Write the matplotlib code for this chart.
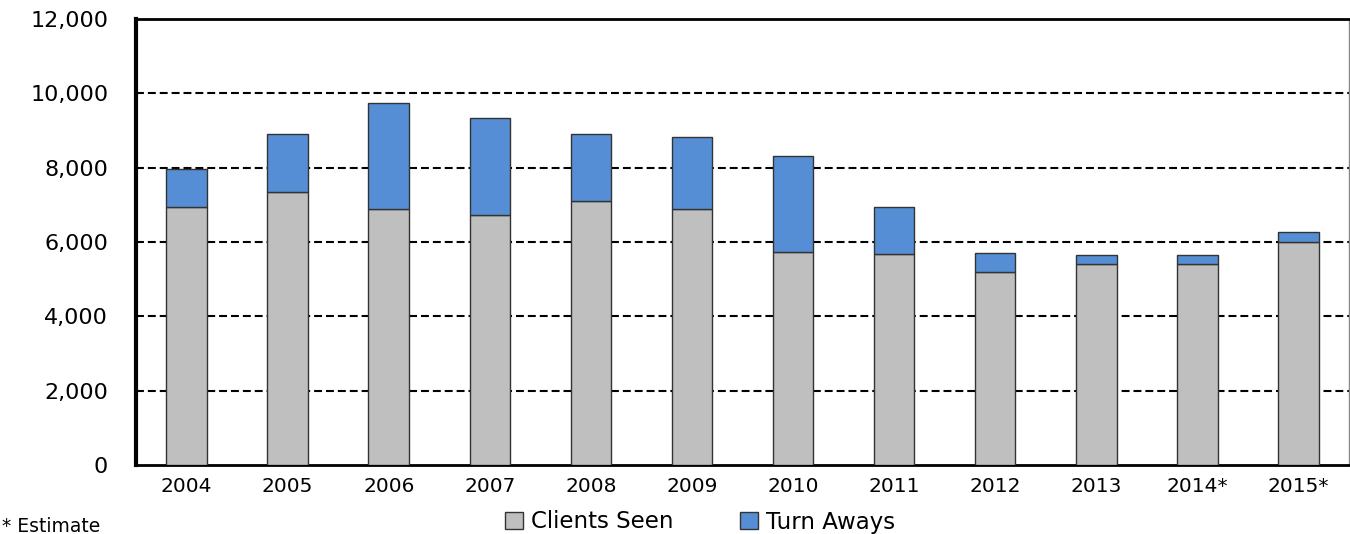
import matplotlib
matplotlib.use("Agg")
import matplotlib.pyplot as plt
from matplotlib.patches import Patch
from matplotlib.ticker import FuncFormatter

years = ["2004", "2005", "2006", "2007", "2008", "2009", "2010", "2011", "2012", "2013", "2014*", "2015*"]
clients_seen = [6950, 7350, 6900, 6730, 7100, 6890, 5730, 5680, 5190, 5400, 5400, 6000]
turn_aways = [1020, 1550, 2840, 2610, 1800, 1940, 2580, 1260, 510, 250, 250, 270]

plt.rcParams['font.family'] = ['DejaVu Sans']

fig = plt.figure(figsize=(13.5, 5.34), dpi=100)
ax = fig.add_axes([136/1350, 1-465/534, (1349-136)/1350, (465-19)/534])

x = list(range(len(years)))
gray = "#BFBFBF"
blue = "#558ED5"
ax.bar(x, clients_seen, width=0.4, color=gray, edgecolor="#333333", linewidth=1.0, zorder=3)
ax.bar(x, turn_aways, bottom=clients_seen, width=0.4, color=blue, edgecolor="#333333", linewidth=1.0, zorder=3)

ax.set_xlim(-0.5, len(years) - 0.5)
ax.set_ylim(0, 12000)
ax.set_yticks(range(0, 12001, 2000))
ax.yaxis.set_major_formatter(FuncFormatter(lambda v, p: f"{int(v):,}"))
ax.set_xticks(x)
ax.set_xticklabels(years)
ax.tick_params(axis='y', length=0, pad=20, labelsize=16, colors="black")
ax.tick_params(axis='x', length=0, pad=9, labelsize=14.5, colors="black")

for yv in range(2000, 12000, 2000):
    ax.axhline(yv, color="black", linestyle=(0, (3.8, 1.9)), linewidth=1.5, zorder=1)

ax.spines['left'].set_linewidth(3)
ax.spines['bottom'].set_linewidth(2)
ax.spines['top'].set_linewidth(2)
ax.spines['right'].set_linewidth(1)
ax.spines['right'].set_color("#888888")

handles = [Patch(facecolor=gray, edgecolor="#333333", label="Clients Seen"),
           Patch(facecolor=blue, edgecolor="#333333", label="Turn Aways")]
fig.legend(handles=handles, loc="center", bbox_to_anchor=(700/1350, 1-522/534), ncol=2,
           frameon=False, fontsize=16.5, handlelength=0.8, handleheight=0.8,
           handletextpad=0.35, columnspacing=2.9)

fig.text(2/1350, 1-527/534, "* Estimate", fontsize=13.5, ha="left", va="center")

fig.savefig("out.png", dpi=100)
